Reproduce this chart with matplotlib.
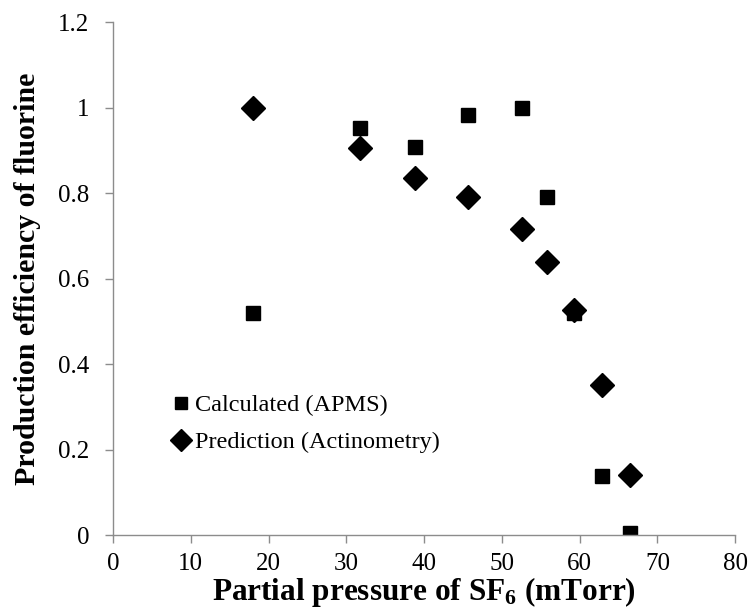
import matplotlib
matplotlib.use("Agg")
import matplotlib.pyplot as plt

pressure = [18.0, 31.7, 38.8, 45.7, 52.6, 55.8, 59.3, 62.9, 66.5]
calculated = [0.52, 0.953, 0.908, 0.983, 0.998, 0.79, 0.52, 0.139, 0.004]
prediction = [1.0, 0.905, 0.836, 0.791, 0.717, 0.638, 0.527, 0.352, 0.140]
xticks = [0, 10, 20, 30, 40, 50, 60, 70, 80]
yticks = [0, 0.2, 0.4, 0.6, 0.8, 1.0, 1.2]
yticklabels = ["0", "0.2", "0.4", "0.6", "0.8", "1", "1.2"]

plt.rcParams['font.family'] = ['Liberation Serif', 'DejaVu Serif']
plt.rcParams['mathtext.default'] = 'regular'

fig = plt.figure(figsize=(7.48, 6.13), dpi=100)
ax = fig.add_axes([0.151, 0.127, 0.832, 0.837])

ax.plot(pressure, calculated, linestyle='none', marker='s', ms=9.5, color='black',
        label='Calculated (APMS)')
ax.plot(pressure, prediction, linestyle='none', marker='D', ms=12, color='black',
        label='Prediction (Actinometry)')

ax.set_xlim(0, 80)
ax.set_ylim(0, 1.2)
ax.set_xticks(xticks)
ax.set_yticks(yticks)
ax.set_yticklabels(yticklabels)

for s in ['top', 'right']:
    ax.spines[s].set_visible(False)
for s in ['left', 'bottom']:
    ax.spines[s].set_color('#8c8c8c')
    ax.spines[s].set_linewidth(1.0)
ax.tick_params(axis='both', direction='out', color='#8c8c8c', length=6,
               labelsize=18, width=1.0)
ax.tick_params(axis='x', pad=7)
ax.tick_params(axis='y', pad=11)

ax.set_xlabel('Partial pressure of SF$_6$ (mTorr)', fontsize=22.5, fontweight='bold', labelpad=0)
ax.set_ylabel('Production efficiency of fluorine', fontsize=21.5, fontweight='bold', labelpad=12)

leg = ax.legend(loc='upper left', bbox_to_anchor=(0.079, 0.298), frameon=False,
                fontsize=17.5, markerscale=0.9, handlelength=0.55, handletextpad=0.3,
                borderpad=0, labelspacing=0.6)

fig.savefig('out.png', dpi=100)
